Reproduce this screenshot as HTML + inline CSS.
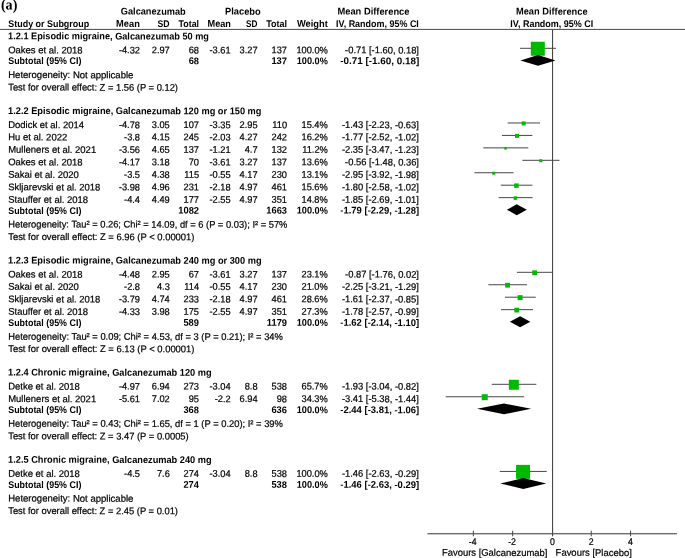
<!DOCTYPE html>
<html><head><meta charset="utf-8"><title>Forest plot</title>
<style>
html,body{margin:0;padding:0;background:#fff;}
body{width:685px;height:558px;position:relative;overflow:hidden;}
#w{position:absolute;left:0;top:0;width:685px;height:558px;will-change:transform;}
svg{position:absolute;left:0;top:0;}
text{font-family:"Liberation Sans",sans-serif;font-size:9.7px;fill:#000;text-rendering:geometricPrecision;white-space:pre;stroke:#000;stroke-width:0.22px;}
.b{font-weight:bold;stroke-width:0.0px;}
</style></head><body>
<div id="w">
<svg width="685" height="558" viewBox="0 0 685 558">
<g>
<rect x="0" y="28.9" width="685" height="1" fill="#484848"/>
<rect x="552" y="29.5" width="1.1" height="506.8" fill="#484848"/>
<rect x="427.4" y="533.2" width="249.5" height="1.1" fill="#484848"/>
<rect x="520.01" y="47.80" width="35.98" height="1" fill="#484848"/>
<rect x="530.80" y="41.75" width="14" height="14" fill="#00ba00"/>
<polygon points="520.51,60.39 538.00,54.99 555.49,60.39 538.00,65.80" fill="#000"/>
<rect x="507.63" y="122.47" width="32.44" height="1" fill="#484848"/>
<rect x="521.65" y="121.42" width="4" height="4" fill="#00ba00"/>
<rect x="501.93" y="134.92" width="30.47" height="1" fill="#484848"/>
<rect x="514.97" y="133.87" width="4" height="4" fill="#00ba00"/>
<rect x="483.26" y="147.36" width="45.02" height="1" fill="#484848"/>
<rect x="504.32" y="147.06" width="2.5" height="2.5" fill="#00ba00"/>
<rect x="522.37" y="159.81" width="37.16" height="1" fill="#484848"/>
<rect x="539.25" y="159.25" width="3" height="3" fill="#00ba00"/>
<rect x="474.42" y="172.25" width="39.12" height="1" fill="#484848"/>
<rect x="492.28" y="171.70" width="3" height="3" fill="#00ba00"/>
<rect x="500.75" y="184.69" width="31.65" height="1" fill="#484848"/>
<rect x="514.13" y="183.39" width="4.5" height="4.5" fill="#00ba00"/>
<rect x="498.59" y="197.14" width="34.01" height="1" fill="#484848"/>
<rect x="513.65" y="196.34" width="3.5" height="3.5" fill="#00ba00"/>
<polygon points="506.95,209.73 516.78,204.33 526.80,209.73 516.78,215.13" fill="#000"/>
<rect x="516.87" y="271.81" width="35.98" height="1" fill="#484848"/>
<rect x="532.25" y="270.36" width="4.8" height="4.8" fill="#00ba00"/>
<rect x="488.37" y="284.25" width="38.73" height="1" fill="#484848"/>
<rect x="505.14" y="282.81" width="4.8" height="4.8" fill="#00ba00"/>
<rect x="504.88" y="296.70" width="30.87" height="1" fill="#484848"/>
<rect x="517.61" y="295.15" width="5" height="5" fill="#00ba00"/>
<rect x="500.95" y="309.15" width="32.05" height="1" fill="#484848"/>
<rect x="514.37" y="307.70" width="4.8" height="4.8" fill="#00ba00"/>
<polygon points="509.90,321.74 520.12,316.34 530.34,321.74 520.12,327.14" fill="#000"/>
<rect x="491.71" y="383.81" width="44.62" height="1" fill="#484848"/>
<rect x="508.83" y="379.76" width="10" height="10" fill="#00ba00"/>
<rect x="445.73" y="396.26" width="78.42" height="1" fill="#484848"/>
<rect x="481.74" y="394.21" width="6" height="6" fill="#00ba00"/>
<polygon points="477.08,408.86 504.00,403.46 531.12,408.86 504.00,414.25" fill="#000"/>
<rect x="499.77" y="470.93" width="46.98" height="1" fill="#484848"/>
<rect x="516.06" y="464.88" width="14" height="14" fill="#00ba00"/>
<polygon points="500.27,483.52 523.26,478.12 546.25,483.52 523.26,488.92" fill="#000"/>
<rect x="472.85" y="530.7" width="1" height="5.6" fill="#484848"/>
<rect x="512.15" y="530.7" width="1" height="5.6" fill="#484848"/>
<rect x="590.75" y="530.7" width="1" height="5.6" fill="#484848"/>
<rect x="630.05" y="530.7" width="1" height="5.6" fill="#484848"/>
</g>
<g>
<text transform="translate(9.15,9.625) rotate(0.03) scale(0.9402,1)" x="-8.78" class="b" style="font-size:15px;font-family:'Liberation Serif',serif">(a)</text>
<text transform="translate(153.30,14.625) rotate(0.03) scale(0.9492,1)" x="-34.24" class="b">Galcanezumab</text>
<text transform="translate(242.85,14.625) rotate(0.03) scale(0.9609,1)" x="-18.58" class="b">Placebo</text>
<text transform="translate(373.50,14.625) rotate(0.03) scale(0.9615,1)" x="-37.44" class="b">Mean Difference</text>
<text transform="translate(551.80,14.625) rotate(0.03) scale(0.9561,1)" x="-37.44" class="b">Mean Difference</text>
<text transform="translate(48.75,26.875) rotate(0.03) scale(0.9216,1)" x="-43.89" class="b">Study or Subgroup</text>
<text transform="translate(128.00,26.875) rotate(0.03) scale(0.9584,1)" x="-12.42" class="b">Mean</text>
<text transform="translate(163.55,26.875) rotate(0.03) scale(0.8974,1)" x="-6.74" class="b">SD</text>
<text transform="translate(188.75,26.875) rotate(0.03) scale(0.9149,1)" x="-11.20" class="b">Total</text>
<text transform="translate(219.25,26.875) rotate(0.03) scale(0.9464,1)" x="-12.42" class="b">Mean</text>
<text transform="translate(251.70,26.875) rotate(0.03) scale(0.8455,1)" x="-6.74" class="b">SD</text>
<text transform="translate(276.60,26.875) rotate(0.03) scale(0.9283,1)" x="-11.20" class="b">Total</text>
<text transform="translate(312.35,26.875) rotate(0.03) scale(0.9624,1)" x="-16.05" class="b">Weight</text>
<text transform="translate(377.45,26.875) rotate(0.03) scale(0.9249,1)" x="-44.81" class="b">IV, Random, 95% CI</text>
<text transform="translate(551.80,26.875) rotate(0.03) scale(0.9283,1)" x="-44.81" class="b">IV, Random, 95% CI</text>
<text transform="translate(108.65,39.375) rotate(0.03) scale(0.9467,1)" x="-106.22" class="b">1.2.1 Episodic migraine, Galcanezumab 50 mg</text>
<text transform="translate(45.39,53.375) rotate(0.03) scale(0.9780,1)" x="-38.02" >Oakes et al. 2018</text>
<text transform="translate(129.44,53.375) rotate(0.03) scale(0.9550,1)" x="-11.06" >-4.32</text>
<text transform="translate(160.77,53.375) rotate(0.03) scale(0.9550,1)" x="-9.46" >2.97</text>
<text transform="translate(193.86,53.375) rotate(0.03) scale(0.9550,1)" x="-5.38" >68</text>
<text transform="translate(220.04,53.375) rotate(0.03) scale(0.9550,1)" x="-11.06" >-3.61</text>
<text transform="translate(248.57,53.375) rotate(0.03) scale(0.9550,1)" x="-9.46" >3.27</text>
<text transform="translate(279.26,53.375) rotate(0.03) scale(0.9550,1)" x="-8.10" >137</text>
<text transform="translate(312.10,53.375) rotate(0.03) scale(0.9550,1)" x="-16.44" >100.0%</text>
<text transform="translate(382.03,53.375) rotate(0.03) scale(0.9660,1)" x="-38.27" >-0.71 [-1.60, 0.18]</text>
<text transform="translate(44.80,64.125) rotate(0.03) scale(0.9181,1)" x="-39.87" class="b">Subtotal (95% CI)</text>
<text transform="translate(193.83,64.125) rotate(0.03) scale(0.9600,1)" x="-5.38" class="b">68</text>
<text transform="translate(279.22,64.125) rotate(0.03) scale(0.9600,1)" x="-8.10" class="b">137</text>
<text transform="translate(312.26,64.125) rotate(0.03) scale(0.9450,1)" x="-16.44" class="b">100.0%</text>
<text transform="translate(379.80,64.125) rotate(0.03) scale(1.0180,1)" x="-38.80" class="b">-0.71 [-1.60, 0.18]</text>
<text transform="translate(70.88,78.125) rotate(0.03) scale(0.9850,1)" x="-63.63" >Heterogeneity: Not applicable</text>
<text transform="translate(93.20,90.625) rotate(0.03) scale(0.9661,1)" x="-87.98" >Test for overall effect: Z = 1.56 (P = 0.12)</text>
<text transform="translate(134.90,114.125) rotate(0.03) scale(0.9524,1)" x="-133.13" class="b">1.2.2 Episodic migraine, Galcanezumab 120 mg or 150 mg</text>
<text transform="translate(46.15,128.125) rotate(0.03) scale(0.9780,1)" x="-38.80" >Dodick et al. 2014</text>
<text transform="translate(129.44,128.125) rotate(0.03) scale(0.9550,1)" x="-11.06" >-4.78</text>
<text transform="translate(160.77,128.125) rotate(0.03) scale(0.9550,1)" x="-9.46" >3.05</text>
<text transform="translate(191.26,128.125) rotate(0.03) scale(0.9550,1)" x="-8.10" >107</text>
<text transform="translate(220.04,128.125) rotate(0.03) scale(0.9550,1)" x="-11.06" >-3.35</text>
<text transform="translate(248.57,128.125) rotate(0.03) scale(0.9550,1)" x="-9.46" >2.95</text>
<text transform="translate(279.64,128.125) rotate(0.03) scale(0.9550,1)" x="-7.71" >110</text>
<text transform="translate(314.65,128.125) rotate(0.03) scale(0.9550,1)" x="-13.77" >15.4%</text>
<text transform="translate(380.44,128.125) rotate(0.03) scale(0.9660,1)" x="-39.92" >-1.43 [-2.23, -0.63]</text>
<text transform="translate(37.75,140.375) rotate(0.03) scale(0.9780,1)" x="-30.22" >Hu et al. 2022</text>
<text transform="translate(132.03,140.375) rotate(0.03) scale(0.9550,1)" x="-8.34" >-3.8</text>
<text transform="translate(160.77,140.375) rotate(0.03) scale(0.9550,1)" x="-9.46" >4.15</text>
<text transform="translate(191.26,140.375) rotate(0.03) scale(0.9550,1)" x="-8.10" >245</text>
<text transform="translate(220.04,140.375) rotate(0.03) scale(0.9550,1)" x="-11.06" >-2.03</text>
<text transform="translate(248.57,140.375) rotate(0.03) scale(0.9550,1)" x="-9.46" >4.27</text>
<text transform="translate(279.26,140.375) rotate(0.03) scale(0.9550,1)" x="-8.10" >242</text>
<text transform="translate(314.65,140.375) rotate(0.03) scale(0.9550,1)" x="-13.77" >16.2%</text>
<text transform="translate(380.44,140.375) rotate(0.03) scale(0.9660,1)" x="-39.92" >-1.77 [-2.52, -1.02]</text>
<text transform="translate(52.22,152.875) rotate(0.03) scale(0.9780,1)" x="-45.01" >Mulleners et al. 2021</text>
<text transform="translate(129.44,152.875) rotate(0.03) scale(0.9550,1)" x="-11.06" >-3.56</text>
<text transform="translate(160.77,152.875) rotate(0.03) scale(0.9550,1)" x="-9.46" >4.65</text>
<text transform="translate(191.26,152.875) rotate(0.03) scale(0.9550,1)" x="-8.10" >137</text>
<text transform="translate(220.04,152.875) rotate(0.03) scale(0.9550,1)" x="-11.06" >-1.21</text>
<text transform="translate(251.16,152.875) rotate(0.03) scale(0.9550,1)" x="-6.74" >4.7</text>
<text transform="translate(279.26,152.875) rotate(0.03) scale(0.9550,1)" x="-8.10" >132</text>
<text transform="translate(315.02,152.875) rotate(0.03) scale(0.9550,1)" x="-13.39" >11.2%</text>
<text transform="translate(380.44,152.875) rotate(0.03) scale(0.9660,1)" x="-39.92" >-2.35 [-3.47, -1.23]</text>
<text transform="translate(45.39,165.375) rotate(0.03) scale(0.9780,1)" x="-38.02" >Oakes et al. 2018</text>
<text transform="translate(129.44,165.375) rotate(0.03) scale(0.9550,1)" x="-11.06" >-4.17</text>
<text transform="translate(160.77,165.375) rotate(0.03) scale(0.9550,1)" x="-9.46" >3.18</text>
<text transform="translate(193.86,165.375) rotate(0.03) scale(0.9550,1)" x="-5.38" >70</text>
<text transform="translate(220.04,165.375) rotate(0.03) scale(0.9550,1)" x="-11.06" >-3.61</text>
<text transform="translate(248.57,165.375) rotate(0.03) scale(0.9550,1)" x="-9.46" >3.27</text>
<text transform="translate(279.26,165.375) rotate(0.03) scale(0.9550,1)" x="-8.10" >137</text>
<text transform="translate(314.65,165.375) rotate(0.03) scale(0.9550,1)" x="-13.77" >13.6%</text>
<text transform="translate(382.03,165.375) rotate(0.03) scale(0.9660,1)" x="-38.27" >-0.56 [-1.48, 0.36]</text>
<text transform="translate(43.54,177.875) rotate(0.03) scale(0.9780,1)" x="-36.13" >Sakai et al. 2020</text>
<text transform="translate(132.03,177.875) rotate(0.03) scale(0.9550,1)" x="-8.34" >-3.5</text>
<text transform="translate(160.77,177.875) rotate(0.03) scale(0.9550,1)" x="-9.46" >4.38</text>
<text transform="translate(191.64,177.875) rotate(0.03) scale(0.9550,1)" x="-7.71" >115</text>
<text transform="translate(220.04,177.875) rotate(0.03) scale(0.9550,1)" x="-11.06" >-0.55</text>
<text transform="translate(248.57,177.875) rotate(0.03) scale(0.9550,1)" x="-9.46" >4.17</text>
<text transform="translate(279.26,177.875) rotate(0.03) scale(0.9550,1)" x="-8.10" >230</text>
<text transform="translate(314.65,177.875) rotate(0.03) scale(0.9550,1)" x="-13.77" >13.1%</text>
<text transform="translate(380.44,177.875) rotate(0.03) scale(0.9660,1)" x="-39.92" >-2.95 [-3.92, -1.98]</text>
<text transform="translate(54.35,190.375) rotate(0.03) scale(0.9780,1)" x="-47.19" >Skljarevski et al. 2018</text>
<text transform="translate(129.44,190.375) rotate(0.03) scale(0.9550,1)" x="-11.06" >-3.98</text>
<text transform="translate(160.77,190.375) rotate(0.03) scale(0.9550,1)" x="-9.46" >4.96</text>
<text transform="translate(191.26,190.375) rotate(0.03) scale(0.9550,1)" x="-8.10" >231</text>
<text transform="translate(220.04,190.375) rotate(0.03) scale(0.9550,1)" x="-11.06" >-2.18</text>
<text transform="translate(248.57,190.375) rotate(0.03) scale(0.9550,1)" x="-9.46" >4.97</text>
<text transform="translate(279.26,190.375) rotate(0.03) scale(0.9550,1)" x="-8.10" >461</text>
<text transform="translate(314.65,190.375) rotate(0.03) scale(0.9550,1)" x="-13.77" >15.6%</text>
<text transform="translate(380.44,190.375) rotate(0.03) scale(0.9660,1)" x="-39.92" >-1.80 [-2.58, -1.02]</text>
<text transform="translate(48.19,202.875) rotate(0.03) scale(0.9780,1)" x="-40.89" >Stauffer et al. 2018</text>
<text transform="translate(132.03,202.875) rotate(0.03) scale(0.9550,1)" x="-8.34" >-4.4</text>
<text transform="translate(160.77,202.875) rotate(0.03) scale(0.9550,1)" x="-9.46" >4.49</text>
<text transform="translate(191.26,202.875) rotate(0.03) scale(0.9550,1)" x="-8.10" >177</text>
<text transform="translate(220.04,202.875) rotate(0.03) scale(0.9550,1)" x="-11.06" >-2.55</text>
<text transform="translate(248.57,202.875) rotate(0.03) scale(0.9550,1)" x="-9.46" >4.97</text>
<text transform="translate(279.26,202.875) rotate(0.03) scale(0.9550,1)" x="-8.10" >351</text>
<text transform="translate(314.65,202.875) rotate(0.03) scale(0.9550,1)" x="-13.77" >14.8%</text>
<text transform="translate(380.44,202.875) rotate(0.03) scale(0.9660,1)" x="-39.92" >-1.85 [-2.69, -1.01]</text>
<text transform="translate(44.80,213.625) rotate(0.03) scale(0.9181,1)" x="-39.87" class="b">Subtotal (95% CI)</text>
<text transform="translate(188.66,213.625) rotate(0.03) scale(0.9600,1)" x="-10.77" class="b">1082</text>
<text transform="translate(276.66,213.625) rotate(0.03) scale(0.9600,1)" x="-10.77" class="b">1663</text>
<text transform="translate(312.26,213.625) rotate(0.03) scale(0.9450,1)" x="-16.44" class="b">100.0%</text>
<text transform="translate(379.80,213.625) rotate(0.03) scale(0.9765,1)" x="-40.45" class="b">-1.79 [-2.29, -1.28]</text>
<text transform="translate(148.00,227.625) rotate(0.03) scale(0.9640,1)" x="-145.01" >Heterogeneity: Tau² = 0.26; Chi² = 14.09, df = 6 (P = 0.03); I² = 57%</text>
<text transform="translate(101.45,240.125) rotate(0.03) scale(0.9706,1)" x="-96.08" >Test for overall effect: Z = 6.96 (P &lt; 0.00001)</text>
<text transform="translate(134.95,263.625) rotate(0.03) scale(0.9528,1)" x="-133.13" class="b">1.2.3 Episodic migraine, Galcanezumab 240 mg or 300 mg</text>
<text transform="translate(45.39,277.625) rotate(0.03) scale(0.9780,1)" x="-38.02" >Oakes et al. 2018</text>
<text transform="translate(129.44,277.625) rotate(0.03) scale(0.9550,1)" x="-11.06" >-4.48</text>
<text transform="translate(160.77,277.625) rotate(0.03) scale(0.9550,1)" x="-9.46" >2.95</text>
<text transform="translate(193.86,277.625) rotate(0.03) scale(0.9550,1)" x="-5.38" >67</text>
<text transform="translate(220.04,277.625) rotate(0.03) scale(0.9550,1)" x="-11.06" >-3.61</text>
<text transform="translate(248.57,277.625) rotate(0.03) scale(0.9550,1)" x="-9.46" >3.27</text>
<text transform="translate(279.26,277.625) rotate(0.03) scale(0.9550,1)" x="-8.10" >137</text>
<text transform="translate(314.65,277.625) rotate(0.03) scale(0.9550,1)" x="-13.77" >23.1%</text>
<text transform="translate(382.03,277.625) rotate(0.03) scale(0.9660,1)" x="-38.27" >-0.87 [-1.76, 0.02]</text>
<text transform="translate(43.54,289.875) rotate(0.03) scale(0.9780,1)" x="-36.13" >Sakai et al. 2020</text>
<text transform="translate(132.03,289.875) rotate(0.03) scale(0.9550,1)" x="-8.34" >-2.8</text>
<text transform="translate(163.36,289.875) rotate(0.03) scale(0.9550,1)" x="-6.74" >4.3</text>
<text transform="translate(191.64,289.875) rotate(0.03) scale(0.9550,1)" x="-7.71" >114</text>
<text transform="translate(220.04,289.875) rotate(0.03) scale(0.9550,1)" x="-11.06" >-0.55</text>
<text transform="translate(248.57,289.875) rotate(0.03) scale(0.9550,1)" x="-9.46" >4.17</text>
<text transform="translate(279.26,289.875) rotate(0.03) scale(0.9550,1)" x="-8.10" >230</text>
<text transform="translate(314.65,289.875) rotate(0.03) scale(0.9550,1)" x="-13.77" >21.0%</text>
<text transform="translate(380.44,289.875) rotate(0.03) scale(0.9660,1)" x="-39.92" >-2.25 [-3.21, -1.29]</text>
<text transform="translate(54.35,302.375) rotate(0.03) scale(0.9780,1)" x="-47.19" >Skljarevski et al. 2018</text>
<text transform="translate(129.44,302.375) rotate(0.03) scale(0.9550,1)" x="-11.06" >-3.79</text>
<text transform="translate(160.77,302.375) rotate(0.03) scale(0.9550,1)" x="-9.46" >4.74</text>
<text transform="translate(191.26,302.375) rotate(0.03) scale(0.9550,1)" x="-8.10" >233</text>
<text transform="translate(220.04,302.375) rotate(0.03) scale(0.9550,1)" x="-11.06" >-2.18</text>
<text transform="translate(248.57,302.375) rotate(0.03) scale(0.9550,1)" x="-9.46" >4.97</text>
<text transform="translate(279.26,302.375) rotate(0.03) scale(0.9550,1)" x="-8.10" >461</text>
<text transform="translate(314.65,302.375) rotate(0.03) scale(0.9550,1)" x="-13.77" >28.6%</text>
<text transform="translate(380.44,302.375) rotate(0.03) scale(0.9660,1)" x="-39.92" >-1.61 [-2.37, -0.85]</text>
<text transform="translate(48.19,314.875) rotate(0.03) scale(0.9780,1)" x="-40.89" >Stauffer et al. 2018</text>
<text transform="translate(129.44,314.875) rotate(0.03) scale(0.9550,1)" x="-11.06" >-4.33</text>
<text transform="translate(160.77,314.875) rotate(0.03) scale(0.9550,1)" x="-9.46" >3.98</text>
<text transform="translate(191.26,314.875) rotate(0.03) scale(0.9550,1)" x="-8.10" >175</text>
<text transform="translate(220.04,314.875) rotate(0.03) scale(0.9550,1)" x="-11.06" >-2.55</text>
<text transform="translate(248.57,314.875) rotate(0.03) scale(0.9550,1)" x="-9.46" >4.97</text>
<text transform="translate(279.26,314.875) rotate(0.03) scale(0.9550,1)" x="-8.10" >351</text>
<text transform="translate(314.65,314.875) rotate(0.03) scale(0.9550,1)" x="-13.77" >27.3%</text>
<text transform="translate(380.44,314.875) rotate(0.03) scale(0.9660,1)" x="-39.92" >-1.78 [-2.57, -0.99]</text>
<text transform="translate(44.80,325.875) rotate(0.03) scale(0.9181,1)" x="-39.87" class="b">Subtotal (95% CI)</text>
<text transform="translate(191.22,325.875) rotate(0.03) scale(0.9600,1)" x="-8.10" class="b">589</text>
<text transform="translate(276.90,325.875) rotate(0.03) scale(0.9600,1)" x="-10.52" class="b">1179</text>
<text transform="translate(312.26,325.875) rotate(0.03) scale(0.9450,1)" x="-16.44" class="b">100.0%</text>
<text transform="translate(379.80,325.875) rotate(0.03) scale(0.9765,1)" x="-40.45" class="b">-1.62 [-2.14, -1.10]</text>
<text transform="translate(145.70,339.875) rotate(0.03) scale(0.9663,1)" x="-142.30" >Heterogeneity: Tau² = 0.09; Chi² = 4.53, df = 3 (P = 0.21); I² = 34%</text>
<text transform="translate(101.45,352.125) rotate(0.03) scale(0.9706,1)" x="-96.08" >Test for overall effect: Z = 6.13 (P &lt; 0.00001)</text>
<text transform="translate(109.95,375.625) rotate(0.03) scale(0.9519,1)" x="-106.99" class="b">1.2.4 Chronic migraine, Galcanezumab 120 mg</text>
<text transform="translate(44.06,389.625) rotate(0.03) scale(0.9780,1)" x="-36.67" >Detke et al. 2018</text>
<text transform="translate(129.44,389.625) rotate(0.03) scale(0.9550,1)" x="-11.06" >-4.97</text>
<text transform="translate(160.77,389.625) rotate(0.03) scale(0.9550,1)" x="-9.46" >6.94</text>
<text transform="translate(191.26,389.625) rotate(0.03) scale(0.9550,1)" x="-8.10" >273</text>
<text transform="translate(220.04,389.625) rotate(0.03) scale(0.9550,1)" x="-11.06" >-3.04</text>
<text transform="translate(251.16,389.625) rotate(0.03) scale(0.9550,1)" x="-6.74" >8.8</text>
<text transform="translate(279.26,389.625) rotate(0.03) scale(0.9550,1)" x="-8.10" >538</text>
<text transform="translate(314.65,389.625) rotate(0.03) scale(0.9550,1)" x="-13.77" >65.7%</text>
<text transform="translate(380.44,389.625) rotate(0.03) scale(0.9660,1)" x="-39.92" >-1.93 [-3.04, -0.82]</text>
<text transform="translate(52.22,402.125) rotate(0.03) scale(0.9780,1)" x="-45.01" >Mulleners et al. 2021</text>
<text transform="translate(129.44,402.125) rotate(0.03) scale(0.9550,1)" x="-11.06" >-5.61</text>
<text transform="translate(160.77,402.125) rotate(0.03) scale(0.9550,1)" x="-9.46" >7.02</text>
<text transform="translate(193.86,402.125) rotate(0.03) scale(0.9550,1)" x="-5.38" >95</text>
<text transform="translate(222.63,402.125) rotate(0.03) scale(0.9550,1)" x="-8.34" >-2.2</text>
<text transform="translate(248.57,402.125) rotate(0.03) scale(0.9550,1)" x="-9.46" >6.94</text>
<text transform="translate(281.86,402.125) rotate(0.03) scale(0.9550,1)" x="-5.38" >98</text>
<text transform="translate(314.65,402.125) rotate(0.03) scale(0.9550,1)" x="-13.77" >34.3%</text>
<text transform="translate(380.44,402.125) rotate(0.03) scale(0.9660,1)" x="-39.92" >-3.41 [-5.38, -1.44]</text>
<text transform="translate(44.80,413.125) rotate(0.03) scale(0.9181,1)" x="-39.87" class="b">Subtotal (95% CI)</text>
<text transform="translate(191.22,413.125) rotate(0.03) scale(0.9600,1)" x="-8.10" class="b">368</text>
<text transform="translate(279.22,413.125) rotate(0.03) scale(0.9600,1)" x="-8.10" class="b">636</text>
<text transform="translate(312.26,413.125) rotate(0.03) scale(0.9450,1)" x="-16.44" class="b">100.0%</text>
<text transform="translate(379.80,413.125) rotate(0.03) scale(0.9765,1)" x="-40.45" class="b">-2.44 [-3.81, -1.06]</text>
<text transform="translate(145.70,426.875) rotate(0.03) scale(0.9663,1)" x="-142.30" >Heterogeneity: Tau² = 0.43; Chi² = 1.65, df = 1 (P = 0.20); I² = 39%</text>
<text transform="translate(98.55,439.375) rotate(0.03) scale(0.9677,1)" x="-93.36" >Test for overall effect: Z = 3.47 (P = 0.0005)</text>
<text transform="translate(109.95,462.875) rotate(0.03) scale(0.9519,1)" x="-106.99" class="b">1.2.5 Chronic migraine, Galcanezumab 240 mg</text>
<text transform="translate(44.06,476.875) rotate(0.03) scale(0.9780,1)" x="-36.67" >Detke et al. 2018</text>
<text transform="translate(132.03,476.875) rotate(0.03) scale(0.9550,1)" x="-8.34" >-4.5</text>
<text transform="translate(163.36,476.875) rotate(0.03) scale(0.9550,1)" x="-6.74" >7.6</text>
<text transform="translate(191.26,476.875) rotate(0.03) scale(0.9550,1)" x="-8.10" >274</text>
<text transform="translate(220.04,476.875) rotate(0.03) scale(0.9550,1)" x="-11.06" >-3.04</text>
<text transform="translate(251.16,476.875) rotate(0.03) scale(0.9550,1)" x="-6.74" >8.8</text>
<text transform="translate(279.26,476.875) rotate(0.03) scale(0.9550,1)" x="-8.10" >538</text>
<text transform="translate(312.10,476.875) rotate(0.03) scale(0.9550,1)" x="-16.44" >100.0%</text>
<text transform="translate(380.44,476.875) rotate(0.03) scale(0.9660,1)" x="-39.92" >-1.46 [-2.63, -0.29]</text>
<text transform="translate(44.80,487.875) rotate(0.03) scale(0.9181,1)" x="-39.87" class="b">Subtotal (95% CI)</text>
<text transform="translate(191.22,487.875) rotate(0.03) scale(0.9600,1)" x="-8.10" class="b">274</text>
<text transform="translate(279.22,487.875) rotate(0.03) scale(0.9600,1)" x="-8.10" class="b">538</text>
<text transform="translate(312.26,487.875) rotate(0.03) scale(0.9450,1)" x="-16.44" class="b">100.0%</text>
<text transform="translate(379.80,487.875) rotate(0.03) scale(0.9765,1)" x="-40.45" class="b">-1.46 [-2.63, -0.29]</text>
<text transform="translate(70.88,501.625) rotate(0.03) scale(0.9850,1)" x="-63.63" >Heterogeneity: Not applicable</text>
<text transform="translate(93.20,514.125) rotate(0.03) scale(0.9661,1)" x="-87.98" >Test for overall effect: Z = 2.45 (P = 0.01)</text>
<text transform="translate(472.75,544.875) rotate(0.03) scale(0.9000,1)" x="-4.32" >-4</text>
<text transform="translate(512.05,544.875) rotate(0.03) scale(0.9000,1)" x="-4.32" >-2</text>
<text transform="translate(552.45,544.875) rotate(0.03) scale(0.9000,1)" x="-2.72" >0</text>
<text transform="translate(591.25,544.875) rotate(0.03) scale(0.9000,1)" x="-2.72" >2</text>
<text transform="translate(630.55,544.875) rotate(0.03) scale(0.9000,1)" x="-2.72" >4</text>
<text transform="translate(494.70,555.875) rotate(0.03) scale(0.9746,1)" x="-54.17" >Favours [Galcanezumab]</text>
<text transform="translate(593.75,555.875) rotate(0.03) scale(0.9759,1)" x="-39.09" >Favours [Placebo]</text>
</g>
</svg>
</div>
</body></html>
